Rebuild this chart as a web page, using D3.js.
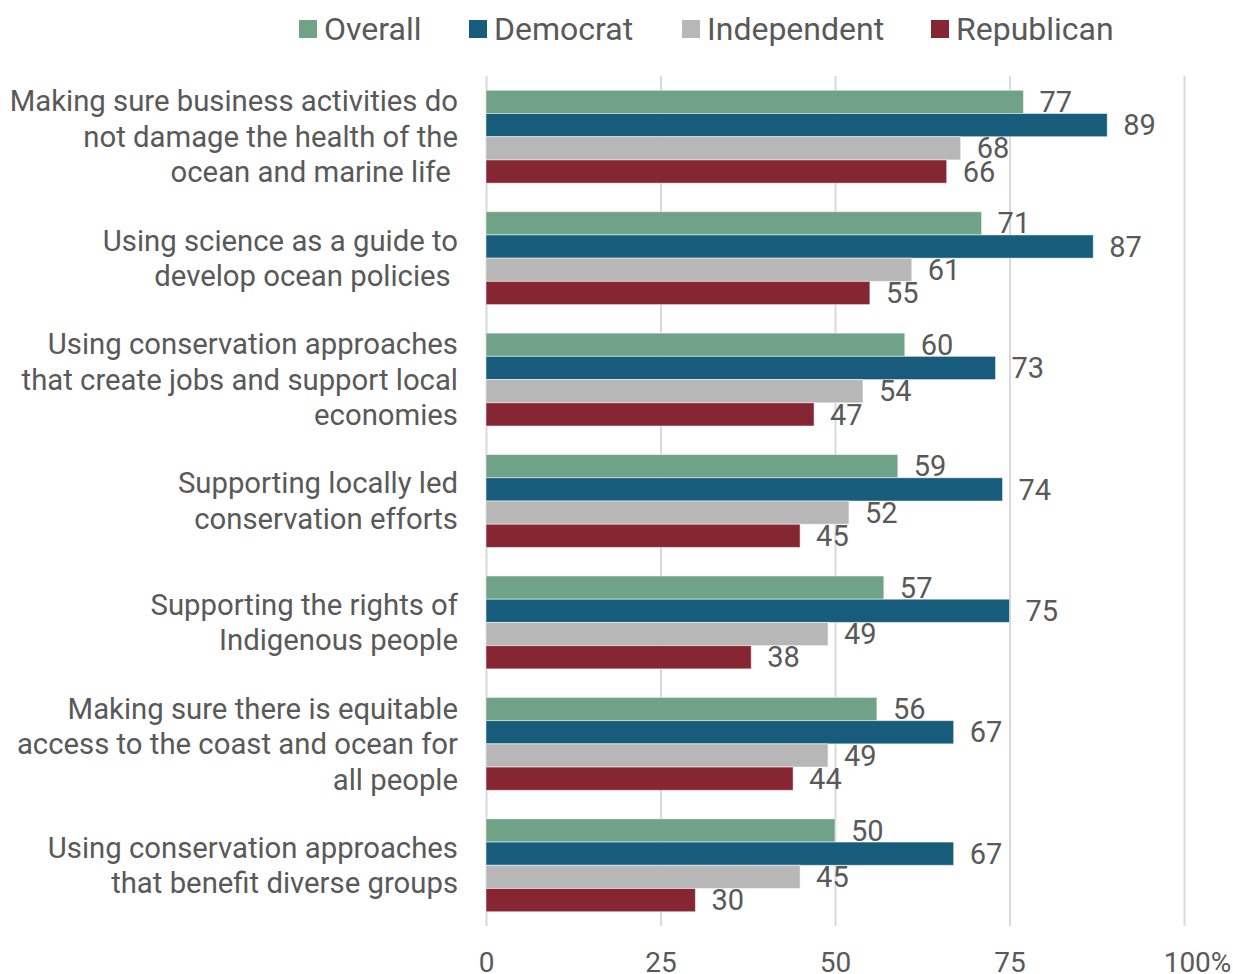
<!DOCTYPE html>
<html>
<head>
<meta charset="utf-8">
<script src="https://cdn.jsdelivr.net/npm/d3@7"></script>
<style>
  body { margin: 0; background: #fff; }
  text { font-family: Roboto, 'Noto Sans', sans-serif; fill: #595959; }
</style>
</head>
<body>
<div class="chart"></div>
<script>
// categories, top to bottom (line breaks as in the original)
const categories = [
  ['Making sure business activities do', 'not damage the health of the', 'ocean and marine life '],
  ['Using science as a guide to', 'develop ocean policies '],
  ['Using conservation approaches', 'that create jobs and support local', 'economies'],
  ['Supporting locally led', 'conservation efforts'],
  ['Supporting the rights of', 'Indigenous people'],
  ['Making sure there is equitable', 'access to the coast and ocean for', 'all people'],
  ['Using conservation approaches', 'that benefit diverse groups']
]
const series = ['Overall', 'Democrat', 'Independent', 'Republican']
const colors = ['#6fa287', '#175c7b', '#b7b7b7', '#862633']

const overall = [77, 71, 60, 59, 57, 56, 50]
const democrat = [89, 87, 73, 74, 75, 67, 67]
const independent = [68, 61, 54, 52, 49, 49, 45]
const republican = [66, 55, 47, 45, 38, 44, 30]

const ticks = [0, 25, 50, 75, 100]
const tickLabels = ['0', '25', '50', '75', '100%']

const values = [overall, democrat, independent, republican]

const width = 1233
const height = 974
const margin = { left: 486, right: 49, top: 76, bottom: 48 }

const svg = d3
  .select('.chart')
  .append('svg')
  .attr('width', width)
  .attr('height', height)

let x = d3
  .scaleLinear()
  .domain([0, 100])
  .range([margin.left, width - margin.right])

let y0 = d3
  .scaleBand()
  .domain(d3.range(categories.length))
  .range([margin.top, height - margin.bottom])
  .paddingInner(0.235)
  .paddingOuter(0.1175)

let y1 = d3
  .scaleBand()
  .domain(series)
  .range([0, y0.bandwidth()])

// grid
svg
  .append('g')
  .attr('class', 'x-grid')
  .attr('transform', `translate(0, ${height - margin.bottom})`)
  .call(
    d3.axisBottom(x)
      .tickValues(ticks)
      .tickSize(-(height - margin.bottom - margin.top))
      .tickFormat('')
  )
  .call((g) => g.select('.domain').remove())
  .call((g) => g.selectAll('line').style('stroke', '#d9d9d9').style('stroke-width', 2))

// x labels
svg
  .append('g')
  .attr('class', 'x-axis')
  .attr('transform', `translate(0, ${height - margin.bottom})`)
  .call(d3.axisBottom(x).tickValues(ticks).tickSize(0).tickFormat((d, i) => tickLabels[i]))
  .call((g) => g.select('.domain').remove())
  .call((g) =>
    g.selectAll('text')
      .style('font-size', '28px')
      .attr('dy', '0.35em')
      .attr('y', 36)
  )
  .call((g) => g.selectAll('.tick:last-of-type text').attr('dx', 13))

// bars
const groups = svg
  .selectAll('.group')
  .data(categories)
  .enter()
  .append('g')
  .attr('class', 'group')
  .attr('transform', (d, i) => `translate(0, ${y0(i)})`)

series.forEach((s, si) => {
  groups
    .append('rect')
    .attr('x', x(0))
    .attr('y', y1(s))
    .attr('width', (d, i) => x(values[si][i]) - x(0))
    .attr('height', y1.bandwidth())
    .style('fill', colors[si])
    .style('stroke', 'rgba(255,255,255,0.5)')
    .style('stroke-width', 1)

  groups
    .append('text')
    .attr('x', (d, i) => x(values[si][i]) + 16)
    .attr('y', y1(s) + y1.bandwidth() / 2)
    .attr('dy', '0.35em')
    .style('font-size', '29px')
    .text((d, i) => values[si][i])
})

// category labels
const lineH = 35.5
groups.each(function (lines) {
  const t = d3
    .select(this)
    .append('text')
    .attr('text-anchor', 'end')
    .style('font-size', '29.3px')
    .style('white-space', 'pre')
  lines.forEach((l, li) => {
    t.append('tspan')
      .attr('x', 458)
      .attr('y', y0.bandwidth() / 2 + (li - (lines.length - 1) / 2) * lineH)
      .attr('dy', '0.35em')
      .text(l)
  })
})

// legend
const legendX = [299, 469, 682, 931]
const legend = svg
  .selectAll('.legend')
  .data(series)
  .enter()
  .append('g')
  .attr('class', 'legend')
  .attr('transform', (d, i) => `translate(${legendX[i]}, 29)`)

legend
  .append('rect')
  .attr('x', 0)
  .attr('y', -9)
  .attr('width', 18)
  .attr('height', 18)
  .style('fill', (d, i) => colors[i])

legend
  .append('text')
  .attr('x', 25)
  .attr('dy', '0.35em')
  .style('font-size', '32px')
  .text((d) => d)
</script>
</body>
</html>
